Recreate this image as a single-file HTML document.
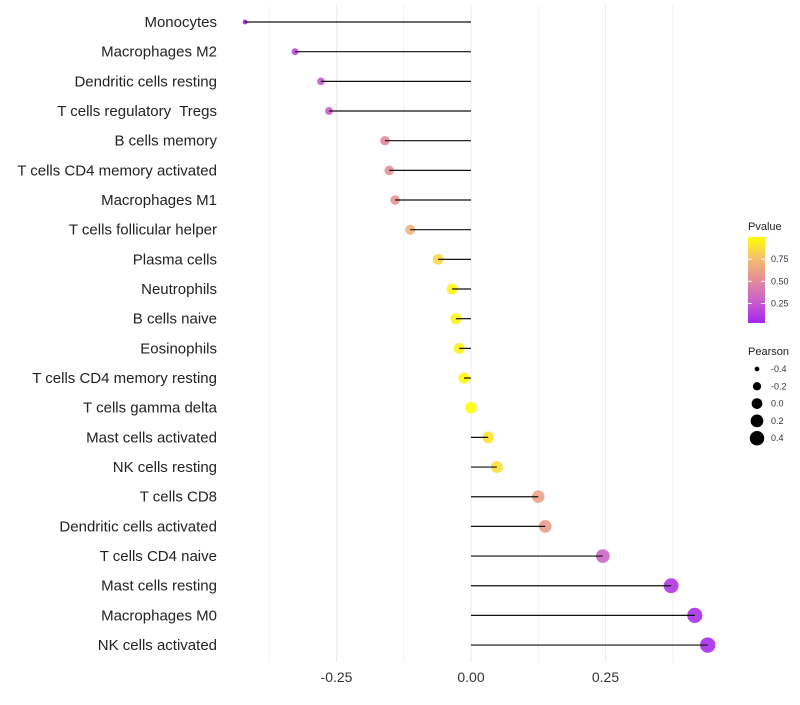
<!DOCTYPE html>
<html><head><meta charset="utf-8"><style>
body{margin:0;background:#fff;font-family:"Liberation Sans",sans-serif}
text{white-space:pre}
</style></head><body>
<svg id="c" width="800" height="700"></svg>
<script>
const categories=["Monocytes","Macrophages M2","Dendritic cells resting","T cells regulatory  Tregs","B cells memory","T cells CD4 memory activated","Macrophages M1","T cells follicular helper","Plasma cells","Neutrophils","B cells naive","Eosinophils","T cells CD4 memory resting","T cells gamma delta","Mast cells activated","NK cells resting","T cells CD8","Dendritic cells activated","T cells CD4 naive","Mast cells resting","Macrophages M0","NK cells activated"];
const pearson=[-0.42,-0.327,-0.279,-0.264,-0.16,-0.152,-0.141,-0.113,-0.061,-0.035,-0.028,-0.022,-0.013,0.0,0.032,0.048,0.125,0.138,0.245,0.372,0.416,0.44];
const pvalue=[0.03,0.18,0.25,0.27,0.5,0.52,0.55,0.7,0.85,0.95,0.95,0.95,0.97,1.0,0.9,0.88,0.63,0.6,0.3,0.1,0.07,0.05];
const xTicks=[-0.25,0,0.25];
const xTickLabels=["-0.25","0.00","0.25"];
const xMinor=[-0.375,-0.125,0.125,0.375];
const pTicks=[0.25,0.5,0.75];
const pTickLabels=["0.25","0.50","0.75"];
const sizeTicks=[-0.4,-0.2,0,0.2,0.4];
const sizeTickLabels=["-0.4","-0.2","0.0","0.2","0.4"];
const NS="http://www.w3.org/2000/svg";
const svg=document.getElementById('c');
function mk(t,a,p){const e=document.createElementNS(NS,t);for(const k in a)e.setAttribute(k,a[k]);(p||svg).appendChild(e);return e;}
const xs=v=>471+v*538;
const ys=i=>22+i*29.67;
const rs=v=>Math.sqrt(Math.max(4,32+62*v));
const stops=[[160,32,240],[200,90,210],[226,138,155],[244,188,115],[255,255,0]];
function col(p){const t=Math.max(0,Math.min(1,p))*4;const i=Math.min(3,Math.floor(t)),f=t-i;const a=stops[i],b=stops[i+1];
return `rgb(${Math.round(a[0]+(b[0]-a[0])*f)},${Math.round(a[1]+(b[1]-a[1])*f)},${Math.round(a[2]+(b[2]-a[2])*f)})`;}
xMinor.concat(xTicks).forEach(v=>{const g=mk('line',{x1:xs(v),x2:xs(v),y1:5,y2:662,stroke:'#ebebeb','stroke-width':xTicks.includes(v)?1.1:0.6});
});
xTicks.forEach((v,i)=>{const t=mk('text',{x:xs(v),y:682,'text-anchor':'middle','font-size':14,fill:'#333'});t.textContent=xTickLabels[i];
});
categories.forEach((c,i)=>{
const t=mk('text',{x:217,y:ys(i)+5,'text-anchor':'end','font-size':15,fill:'#222'});t.textContent=c;

const d=mk('circle',{cx:xs(pearson[i]),cy:ys(i),r:rs(pearson[i]),fill:col(pvalue[i]),'fill-opacity':0.9});

const l=mk('line',{x1:xs(0),x2:xs(pearson[i]),y1:ys(i),y2:ys(i),stroke:'#111','stroke-width':1.2});

});
const defs=mk('defs',{});const lg=mk('linearGradient',{id:'g',x1:0,y1:1,x2:0,y2:0},defs);
[0,0.25,0.5,0.75,1].forEach(o=>mk('stop',{offset:o,'stop-color':col(0.03+o*0.97)},lg));
let t=mk('text',{x:748,y:230,'font-size':11,fill:'#222'});t.textContent='Pvalue';

const bar=mk('rect',{x:748,y:237,width:17,height:86,fill:'url(#g)'});

const py=p=>323-(p-0.03)/0.97*86;
pTicks.forEach((p,i)=>{mk('line',{x1:748,x2:752,y1:py(p),y2:py(p),stroke:'#fff'});mk('line',{x1:761,x2:765,y1:py(p),y2:py(p),stroke:'#fff'});
const tt=mk('text',{x:771,y:py(p)+3,'font-size':9,fill:'#333'});tt.textContent=pTickLabels[i];
});
t=mk('text',{x:748,y:355,'font-size':11,fill:'#222'});t.textContent='Pearson';

sizeTicks.forEach((v,i)=>{const y=369+i*17.3;
const c=mk('circle',{cx:757,cy:y,r:rs(v)-0.3,fill:'#000'});
const tt=mk('text',{x:771,y:y+3,'font-size':9,fill:'#333'});tt.textContent=sizeTickLabels[i];
});
</script>
</body></html>
